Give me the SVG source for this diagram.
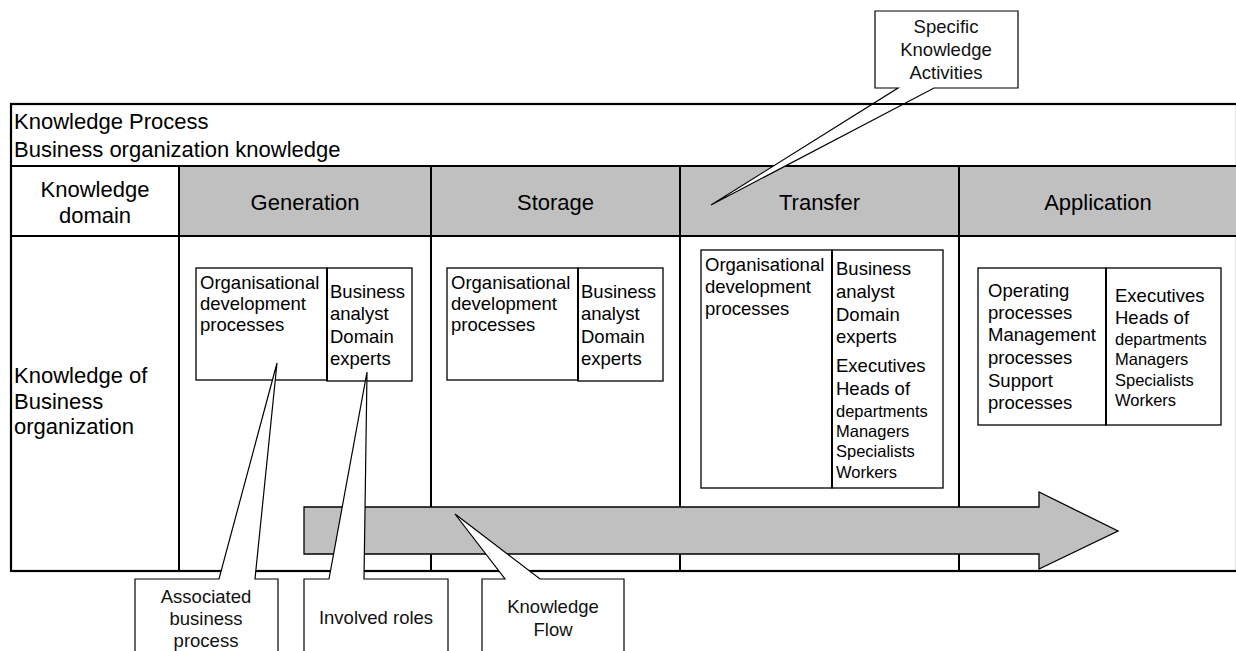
<svg xmlns="http://www.w3.org/2000/svg" width="1236" height="651" viewBox="0 0 1236 651">
<style>
text{font-family:"Liberation Sans",Arial,sans-serif;fill:#000}
.big{font-size:22px}
.mid{font-size:18.5px}
.sm{font-size:16.5px}
.co{font-size:18.5px;fill:#111}
.c{text-anchor:middle}
.tl{stroke:#000;stroke-width:2;fill:none}
.box{fill:#fff;stroke:#000;stroke-width:1.3}
.div{stroke:#000;stroke-width:2}
.callout{fill:#fff;stroke:#000;stroke-width:1.2;stroke-linejoin:miter}
</style>
<rect width="1236" height="651" fill="#fff"/>
<g id="table">
<rect x="11" y="104" width="1226" height="467" fill="#fff" stroke="#000" stroke-width="2.2"/>
<rect x="179" y="166" width="1058" height="70" fill="#c0c0c0"/>
<path class="tl" d="M11,166H1237M11,236H1237M179,166V571M431,166V571M680,166V571M959,166V571"/>
<text class="big" x="14" y="129">Knowledge Process</text>
<text class="big" x="14" y="157">Business organization knowledge</text>
<text class="big c" x="95" y="197">Knowledge</text>
<text class="big c" x="95" y="223">domain</text>
<text class="big c" x="305" y="210">Generation</text>
<text class="big c" x="555.5" y="210">Storage</text>
<text class="big c" x="819.5" y="210">Transfer</text>
<text class="big c" x="1098" y="210">Application</text>
<text class="big" x="14" y="383">Knowledge of</text>
<text class="big" x="14" y="409">Business</text>
<text class="big" x="14" y="434">organization</text>
</g>
<g id="generation-boxes">
<rect class="box" x="196" y="268" width="131" height="112"/>
<rect class="box" x="327" y="268" width="85" height="113"/>
<line class="div" x1="327" y1="268" x2="327" y2="381"/>
<text class="mid" x="200" y="289">Organisational</text>
<text class="mid" x="200" y="310">development</text>
<text class="mid" x="200" y="331">processes</text>
<text class="mid" x="330" y="298">Business</text>
<text class="mid" x="330" y="320">analyst</text>
<text class="mid" x="330" y="343">Domain</text>
<text class="mid" x="330" y="365">experts</text>
</g>
<g id="storage-boxes">
<rect class="box" x="447" y="268" width="131" height="112"/>
<rect class="box" x="578" y="268" width="85" height="113"/>
<line class="div" x1="578" y1="268" x2="578" y2="381"/>
<text class="mid" x="451" y="289">Organisational</text>
<text class="mid" x="451" y="310">development</text>
<text class="mid" x="451" y="331">processes</text>
<text class="mid" x="581" y="298">Business</text>
<text class="mid" x="581" y="320">analyst</text>
<text class="mid" x="581" y="343">Domain</text>
<text class="mid" x="581" y="365">experts</text>
</g>
<g id="transfer-boxes">
<rect class="box" x="701" y="250" width="131" height="238"/>
<rect class="box" x="832" y="250" width="111" height="238"/>
<line class="div" x1="832" y1="250" x2="832" y2="488"/>
<text class="mid" x="705" y="271">Organisational</text>
<text class="mid" x="705" y="293">development</text>
<text class="mid" x="705" y="315">processes</text>
<text class="mid" x="836" y="275">Business</text>
<text class="mid" x="836" y="298">analyst</text>
<text class="mid" x="836" y="321">Domain</text>
<text class="mid" x="836" y="343">experts</text>
<text class="mid" x="836" y="372">Executives</text>
<text class="mid" x="836" y="395">Heads of</text>
<text class="sm" x="836" y="417">departments</text>
<text class="sm" x="836" y="437">Managers</text>
<text class="sm" x="836" y="457">Specialists</text>
<text class="sm" x="836" y="478">Workers</text>
</g>
<g id="application-boxes">
<rect class="box" x="978" y="268" width="128" height="157"/>
<rect class="box" x="1106" y="268" width="115" height="157"/>
<line class="div" x1="1106" y1="268" x2="1106" y2="425"/>
<text class="mid" x="988" y="297">Operating</text>
<text class="mid" x="988" y="319">processes</text>
<text class="mid" x="988" y="341">Management</text>
<text class="mid" x="988" y="364">processes</text>
<text class="mid" x="988" y="387">Support</text>
<text class="mid" x="988" y="409">processes</text>
<text class="mid" x="1115" y="302">Executives</text>
<text class="mid" x="1115" y="324">Heads of</text>
<text class="sm" x="1115" y="345">departments</text>
<text class="sm" x="1115" y="365">Managers</text>
<text class="sm" x="1115" y="386">Specialists</text>
<text class="sm" x="1115" y="406">Workers</text>
</g>
<g id="knowledge-flow-arrow">
<path d="M304,507H1039V492L1118,531L1039,569V554H304Z" fill="#c0c0c0" stroke="#000" stroke-width="1.3" stroke-linejoin="miter"/>
</g>
<g id="connectors">
<g id="callout-activities">
<path class="callout" d="M875,11H1018V88H934L711,205L898,88H875Z"/>
<text class="co c" x="946" y="33">Specific</text>
<text class="co c" x="946" y="56">Knowledge</text>
<text class="co c" x="946" y="79">Activities</text>
</g>
<g id="callout-process">
<path class="callout" d="M135,660V579H219L277,363L255,579H278V660"/>
<text class="co c" x="206" y="603">Associated</text>
<text class="co c" x="206" y="625">business</text>
<text class="co c" x="206" y="647">process</text>
</g>
<g id="callout-roles">
<path class="callout" d="M304,660V579H329L367,372L364,579H448V660"/>
<text class="co c" x="376" y="624">Involved roles</text>
</g>
<g id="callout-flow">
<path class="callout" d="M482,660V579H505L455,514L540,579H624V660"/>
<text class="co c" x="553" y="613">Knowledge</text>
<text class="co c" x="553" y="636">Flow</text>
</g>
</g>
<line x1="11" y1="104" x2="1237" y2="104" stroke="#000" stroke-width="2.2"/>
</svg>
